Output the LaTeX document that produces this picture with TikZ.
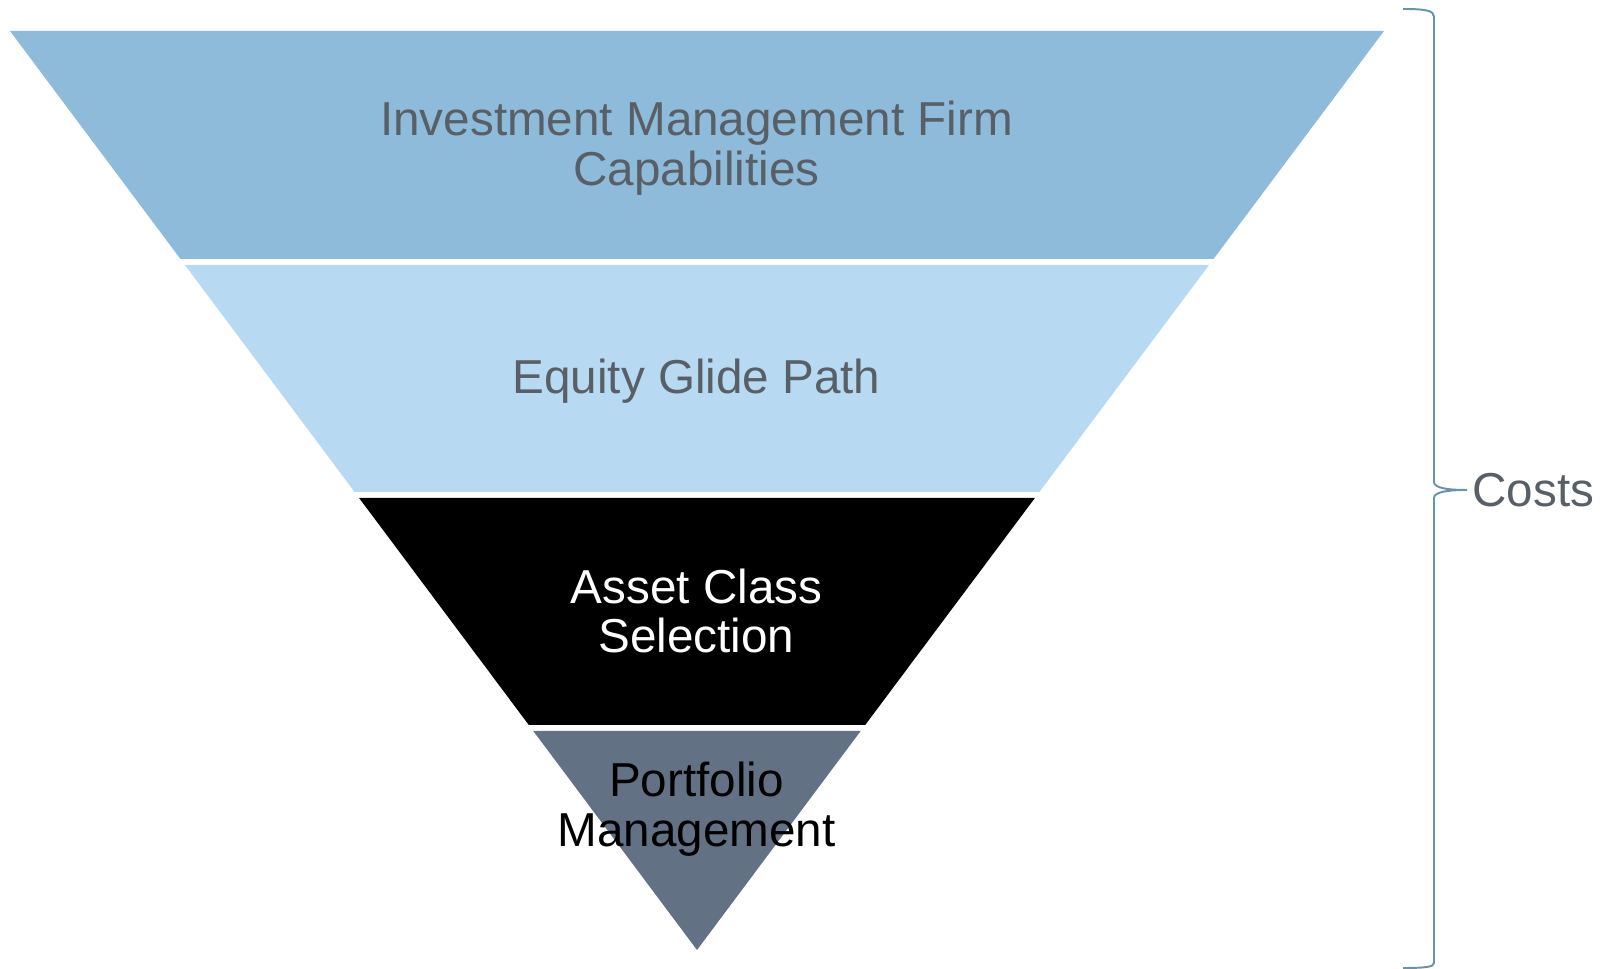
\documentclass[tikz,border=0pt]{standalone}
\usepackage{fontspec}
\setmainfont{Liberation Sans}
\usepackage{tikz}

\definecolor{bandone}{HTML}{8DBBD9}
\definecolor{bandtwo}{HTML}{B7DAF2}
\definecolor{bandfour}{HTML}{627284}
\definecolor{bracecol}{HTML}{6792B0}
\definecolor{labelgray}{HTML}{595F66}

\tikzset{
    bandlabel/.style = {font = {\fontsize{27.1}{28.3}\selectfont}, align = center, inner sep = 0pt},
}

\begin{document}
\begin{tikzpicture}
        \useasboundingbox (0, 0) rectangle (32.24, 19.38);

        % funnel bands
        \fill[bandone] (0.2, 18.76) -- (27.68, 18.76) -- (24.271, 14.20) -- (3.609, 14.20) -- cycle;
        \fill[bandtwo] (3.699, 14.08) -- (24.181, 14.08) -- (20.788, 9.54) -- (7.092, 9.54) -- cycle;
        \fill[black] (7.182, 9.42) -- (20.698, 9.42) -- (17.304, 4.88) -- (10.576, 4.88) -- cycle;
        \fill[bandfour] (10.666, 4.76) -- (17.214, 4.76) -- (13.94, 0.38) -- cycle;

        \node[bandlabel, labelgray] (firm) at (13.93, 16.42) {Investment Management Firm\\Capabilities};
        \node[bandlabel, labelgray] (glide) at (13.93, 11.76) {Equity Glide Path};
        \node[bandlabel, white] (asset) at (13.93, 7.16) {Asset Class\\Selection};
        \node[bandlabel, black] (portfolio) at (13.93, 3.20) {Portfolio\\Management};

        % brace
        \coordinate (bracetop) at (28.06, 19.20);
        \coordinate (bracetip) at (29.34, 9.58);
        \coordinate (bracebot) at (28.06, 0.02);
        \node[bandlabel, labelgray, anchor = west] (costs) at (29.44, 9.58) {Costs};
        \draw[bracecol, line width = 1.1pt]
            (bracetop) .. controls (28.50, 19.20) and (28.68, 19.17) .. (28.68, 19.05)
            -- (28.68, 9.74) .. controls (28.68, 9.62) and (28.95, 9.58) .. (bracetip)
            .. controls (28.95, 9.58) and (28.68, 9.54) .. (28.68, 9.42)
            -- (28.68, 0.12) .. controls (28.68, 0.04) and (28.50, 0.02) .. (bracebot);
    \end{tikzpicture}
\end{document}
